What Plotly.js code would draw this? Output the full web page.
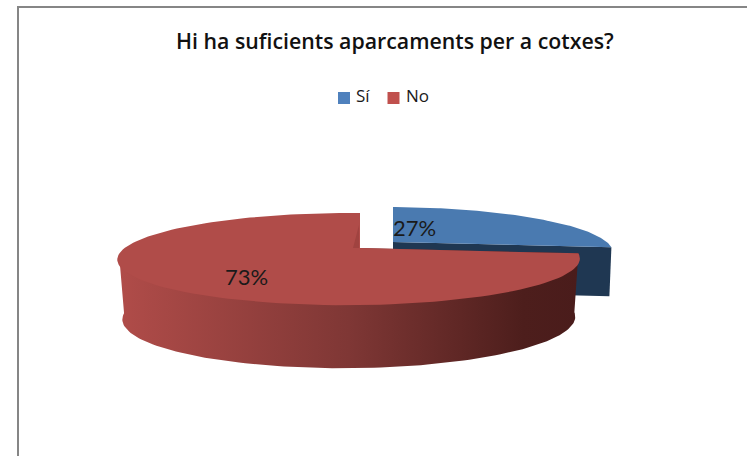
<!DOCTYPE html>
<html><head><meta charset="utf-8">
<script src="https://cdn.plot.ly/plotly-3.0.1.min.js"></script>
<style>html,body{margin:0;padding:0;background:#fff}#c{width:747px;height:456px}</style>
</head><body><div id="c"></div>
<script>
const categories = ['Sí', 'No'];
const values = [27, 73];
const topColors = ['#4a7ab0', '#b04c49'];
const keyColors = ['#4f81bd', '#c0504d'];
const chartTitle = 'Hi ha suficients aparcaments per a cotxes?';
const FONT = '"Open Sans", Lato, sans-serif';

// perspective disc projection, in a 747x456 pixel-scaled axis
const R = 224, H = 43.4, KV = 0.24, KU = 0.048;
function proj(theta, ax, ay, z) {
  const u = Math.sin(theta), v = Math.cos(theta);
  const s = 1 / (1 + KV * v + KU * u);
  const d = z || 0;
  return [ax + R * u * s * (1 - d * 0.00036), ay - H * v * s + d * (1 + (s - 1) * 0.27)];
}
function arc(a0, a1, ax, ay, z) {
  const n = 120, pts = [];
  for (let i = 0; i <= n; i++) pts.push(proj(a0 + (a1 - a0) * i / n, ax, ay, z));
  return pts;
}
const total = values.reduce((a, b) => a + b, 0);
const endSi = 2 * Math.PI * values[0] / total;
const full = 2 * Math.PI;
const redApex = [360, 248], blueApex = [393, 242];

const redArc = arc(endSi, full, redApex[0], redApex[1]);
const blueArc = arc(0, endSi, blueApex[0], blueApex[1]);
const wallDepth = 58;
const frontTop = arc(endSi, 1.46 * Math.PI, redApex[0], redApex[1]);
const frontBot = arc(endSi, 1.46 * Math.PI, redApex[0], redApex[1], wallDepth);
// the wall runs under the top face up to the apex, so no seam shows along the shared edge
const wall = [frontTop[0]].concat(frontBot, [frontTop[frontTop.length - 1], redApex]);
const bTip = blueArc[blueArc.length - 1];
const navy = [blueApex, bTip, [bTip[0] - 2, bTip[1] + 49], [blueApex[0], blueApex[1] + 49]];
const sliver = [[redApex[0] - 1, redApex[1] - 23], [redApex[0] - 7, redApex[1]], [redApex[0] - 1, redApex[1]]];

function poly(pts, extra) {
  const xs = pts.map(p => p[0]).concat(pts[0][0]);
  const ys = pts.map(p => p[1]).concat(pts[0][1]);
  return Object.assign({x: xs, y: ys, type: 'scatter', mode: 'lines', fill: 'toself',
    line: {width: 0}, hoverinfo: 'skip', showlegend: false}, extra);
}
const traces = [
  poly(navy, {fillcolor: '#1f3752', name: categories[0] + ' side'}),
  poly([blueApex].concat(blueArc), {fillcolor: topColors[0], name: categories[0]}),
  poly(wall, {name: categories[1] + ' side', fillcolor: '#8a3c38',
    fillgradient: {type: 'horizontal', colorscale: [[0, '#b04c49'], [0.5, '#7f3735'], [0.88, '#4d1e1c'], [1, '#4a1c1b']]}}),
  poly([redApex].concat(redArc), {fillcolor: topColors[1], name: categories[1]}),
  poly(sliver, {fillcolor: '#a04340', name: categories[1] + ' cut'}),
  {x: [344, 393.5], y: [98, 98], type: 'scatter', mode: 'markers', showlegend: false, hoverinfo: 'skip',
   marker: {symbol: 'square', size: 12, color: keyColors}},
  {x: [356, 406], y: [98, 98], type: 'scatter', mode: 'text', showlegend: false, hoverinfo: 'skip',
   text: categories, textposition: 'middle right', textfont: {family: FONT, size: 17, color: '#1a1a1a'}}
];
const pct = values.map(v => Math.round(100 * v / total) + '%');
const layout = {
  width: 747, height: 456, margin: {l: 0, r: 0, t: 0, b: 0},
  paper_bgcolor: '#fff', plot_bgcolor: '#fff', showlegend: false,
  xaxis: {range: [0, 747], visible: false, fixedrange: true},
  yaxis: {range: [456, 0], visible: false, fixedrange: true},
  shapes: [
    {type: 'path', path: 'M18,456 L18,7 L747,7', line: {color: '#868686', width: 2}, layer: 'below'}
  ],
  annotations: [
    {x: 394.5, y: 40, xref: 'x', yref: 'y', text: chartTitle, showarrow: false,
     font: {family: FONT, size: 21.3, weight: 600, color: '#111'}, xanchor: 'center', yanchor: 'middle'},
    {x: 414.5, y: 227, xref: 'x', yref: 'y', text: pct[0], showarrow: false,
     font: {family: 'Lato, sans-serif', size: 22, color: '#1a1a1a'}},
    {x: 246.5, y: 276, xref: 'x', yref: 'y', text: pct[1], showarrow: false,
     font: {family: 'Lato, sans-serif', size: 22, color: '#1a1a1a'}}
  ]
};
Plotly.newPlot('c', traces, layout, {displayModeBar: false, staticPlot: true});
</script></body></html>
